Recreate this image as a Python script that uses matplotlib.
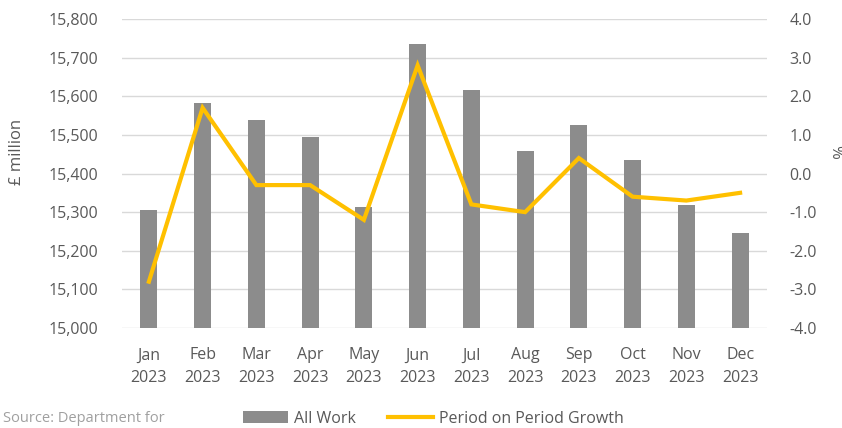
import matplotlib.pyplot as plt
import numpy as np

plt.rcParams['font.family'] = ['Open Sans', 'DejaVu Sans']

# data
months = ['Jan\n2023', 'Feb\n2023', 'Mar\n2023', 'Apr\n2023', 'May\n2023', 'Jun\n2023',
          'Jul\n2023', 'Aug\n2023', 'Sep\n2023', 'Oct\n2023', 'Nov\n2023', 'Dec\n2023']
all_work = [15306, 15582, 15539, 15494, 15313, 15736, 15617, 15457, 15526, 15436, 15319, 15247]
growth = [-2.8, 1.7, -0.3, -0.3, -1.2, 2.8, -0.8, -1.0, 0.4, -0.6, -0.7, -0.5]

bar_col = '#8c8c8c'
line_col = '#ffc000'
txt_col = '#595959'
grid_col = '#d9d9d9'

fig = plt.figure(figsize=(8.42, 4.28), dpi=100)
ax = fig.add_axes([0.1449, 0.2336, 0.766, 0.722])
ax2 = ax.twinx()

x = np.arange(len(months))
bars = ax.bar(x, all_work, width=0.32, color=bar_col, zorder=2, label='All Work')
ax.set_ylim(15000, 15800)
ax.set_yticks(np.arange(15000, 15801, 100))
ax.set_yticklabels([f'{v:,}' for v in range(15000, 15801, 100)])
ax.set_xlim(-0.5, len(months) - 0.5)
ax.set_xticks(x)
ax.set_xticklabels(months, linespacing=1.55)
ax.grid(axis='y', color=grid_col, linewidth=1, zorder=0)
ax.set_axisbelow(True)

line, = ax2.plot(x, growth, color=line_col, linewidth=3, solid_joinstyle='miter',
                 zorder=3, label='Period on Period Growth')
ax2.set_ylim(-4, 4)
ax2.set_yticks(np.arange(-4, 4.1, 1))
ax2.set_yticklabels([f'{v:.1f}' for v in np.arange(-4, 4.1, 1)])

for a in (ax, ax2):
    for s in a.spines.values():
        s.set_visible(False)
    a.tick_params(length=0, labelsize=11.5, colors=txt_col)
ax.tick_params(axis='y', pad=17)
ax.tick_params(axis='x', pad=14)
ax2.tick_params(axis='y', pad=16)

ax.set_ylabel('£ million', fontsize=12, color=txt_col)
ax.yaxis.set_label_coords(-0.15, 0.57)
ax2.set_ylabel('%', fontsize=12, color=txt_col, rotation=270)
ax2.yaxis.set_label_coords(1.118, 0.57)

fig.legend(handles=[bars, line], loc='center', bbox_to_anchor=(0.515, 0.022), ncol=2,
           frameon=False, fontsize=11.5, labelcolor=txt_col, handlelength=2.8,
           handletextpad=0.4, columnspacing=2.0)

fig.text(0.004, 0.022, 'Source: Department for', fontsize=10.5, color='#a0a0a0',
         va='center', ha='left')

fig.savefig('out.png', dpi=100)
